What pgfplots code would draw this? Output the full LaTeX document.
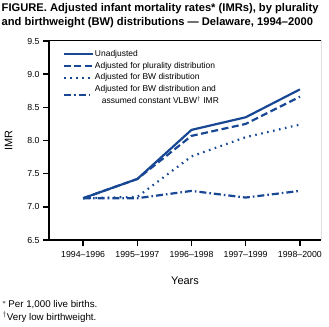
\documentclass[border=0pt]{standalone}
\usepackage{pgfplots}
\pgfplotsset{compat=1.18}
\usepackage{fontspec}
\setmainfont{Liberation Sans}
\definecolor{cdcblue}{RGB}{24,72,148}
\begin{document}
\begin{tikzpicture}
\path[use as bounding box] (0,0) rectangle (329bp,327bp);
\node[anchor=base west, inner sep=0pt, font=\fontsize{11.2}{13}\selectfont\bfseries] at (1.5bp,315bp)
  {FIGURE. Adjusted infant mortality rates* (IMRs), by plurality};
\node[anchor=base west, inner sep=0pt, font=\fontsize{11.2}{13}\selectfont\bfseries] at (1.5bp,301.5bp)
  {and birthweight (BW) distributions --- Delaware, 1994--2000};
\begin{axis}[
  at={(49bp,87bp)}, anchor=south west,
  scale only axis, width=272bp, height=199bp,
  xmin=-0.63, xmax=4.39, ymin=6.5, ymax=9.5,
  axis x line*=bottom, axis y line*=left,
  axis line style={line width=1.6bp, -},
  xtick={0,1,2,3,4},
  xticklabels={1994--1996,1995--1997,1996--1998,1997--1999,1998--2000},
  ytick={6.5,7.0,...,9.5},
  yticklabel style={/pgf/number format/.cd, fixed, fixed zerofill, precision=1},
  /pgf/number format/assume math mode=true,
  tick style={line width=1.6bp, black},
  tick align=outside, major tick length=6bp,
  ticklabel style={font=\fontsize{8.8}{10}\selectfont},
  xticklabel style={yshift=-2bp},
  xlabel={Years}, ylabel={IMR},
  label style={font=\fontsize{11}{13}\selectfont},
  xlabel style={yshift=-12bp},
  ylabel style={yshift=8bp},
  legend style={draw=none, fill=none, at={(0.05,0.96)}, anchor=north west,
    font=\fontsize{8.5}{10}\selectfont, row sep=2.2bp, inner sep=0pt,
    nodes={inner sep=1bp}},
  legend image code/.code={\draw[#1] (0bp,0bp) -- (29bp,0bp);},
  legend cell align=left,
  no markers,
  cycle list={{}},
]
\addplot[cdcblue, line width=2.2bp] coordinates {(0,7.13) (1,7.42) (2,8.16) (3,8.35) (4,8.77)};
\addlegendentry{Unadjusted}
\addplot[cdcblue, line width=2.2bp, dash pattern=on 7bp off 3.5bp] coordinates {(0,7.13) (1,7.42) (2,8.07) (3,8.25) (4,8.66)};
\addlegendentry{Adjusted for plurality distribution}
\addplot[cdcblue, line width=2.2bp, dash pattern=on 1.6bp off 4.5bp] coordinates {(0,7.13) (1,7.15) (2,7.76) (3,8.05) (4,8.24)};
\addlegendentry{Adjusted for BW distribution}
\addplot[cdcblue, line width=2.2bp, dash pattern=on 7bp off 3bp on 1.6bp off 3bp] coordinates {(0,7.13) (1,7.13) (2,7.24) (3,7.14) (4,7.24)};
\addlegendentry{\shortstack[l]{Adjusted for BW distribution and\\\hspace*{7bp}assumed constant VLBW$^\dagger$ IMR}}
\draw[line width=1bp] (rel axis cs:0,1) -- (rel axis cs:1,1) -- (rel axis cs:1,0);
\end{axis}
\node[anchor=west, inner sep=0pt, font=\fontsize{9.8}{11}\selectfont] at (2bp,22bp) {$^*$\,Per 1,000 live births.};
\node[anchor=west, inner sep=0pt, font=\fontsize{9.8}{11}\selectfont] at (2.5bp,10bp) {$^\dagger$Very low birthweight.};
\end{tikzpicture}
\end{document}
